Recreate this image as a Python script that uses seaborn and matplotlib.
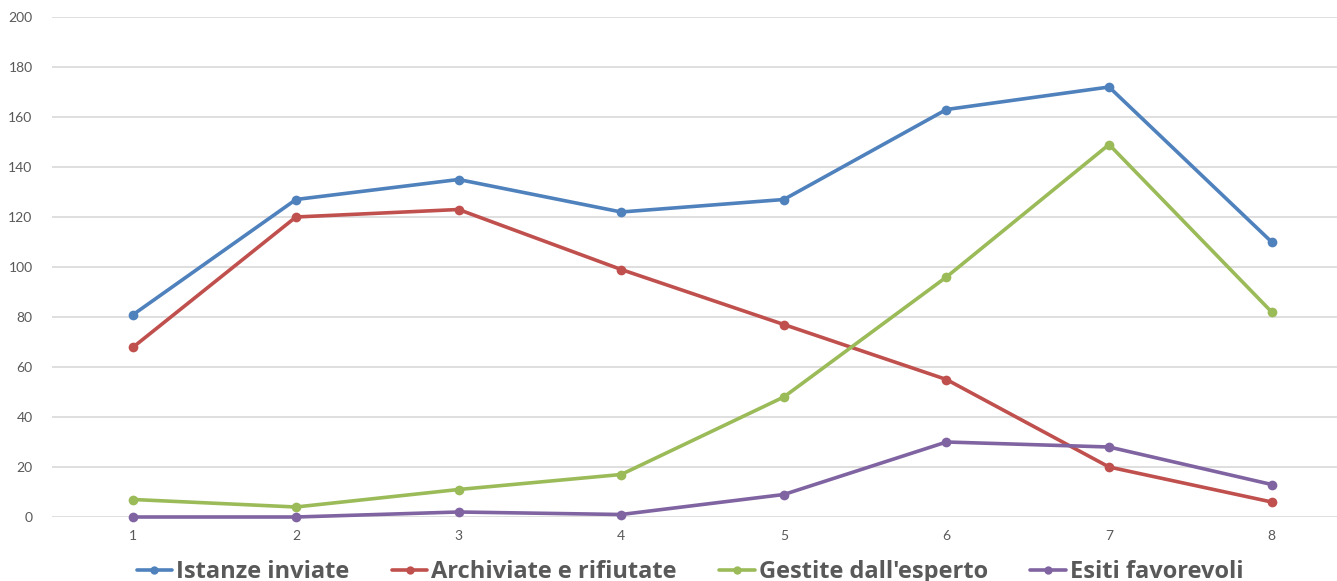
import matplotlib
matplotlib.use("Agg")
import matplotlib.pyplot as plt
import seaborn as sns
import pandas as pd

categories = [1, 2, 3, 4, 5, 6, 7, 8]
istanze_inviate = [81, 127, 135, 122, 127, 163, 172, 110]
archiviate_rifiutate = [68, 120, 123, 99, 77, 55, 20, 6]
gestite_esperto = [7, 4, 11, 17, 48, 96, 149, 82]
esiti_favorevoli = [0, 0, 2, 1, 9, 30, 28, 13]
series_names = ["Istanze inviate", "Archiviate e rifiutate", "Gestite dall'esperto", "Esiti favorevoli"]
colors = ["#4F81BD", "#C0504D", "#9BBB59", "#8064A2"]

sns.set_theme(style="white")
plt.rcParams['font.family'] = ['Lato', 'DejaVu Sans']

rows = []
for name, vals in zip(series_names, [istanze_inviate, archiviate_rifiutate, gestite_esperto, esiti_favorevoli]):
    for c, v in zip(categories, vals):
        rows.append({"x": c, "y": v, "serie": name})
df = pd.DataFrame(rows)

fig = plt.figure(figsize=(13.37, 5.81), dpi=100)
ax = fig.add_axes([52/1337, 64/581, 1301/1337, 500/581])

sns.lineplot(data=df, x="x", y="y", hue="serie", hue_order=series_names,
             palette=colors, marker="o", markersize=7, markeredgewidth=0,
             linewidth=2.6, ax=ax, legend=False)

ax.set_xlim(0.5, 8.5)
ax.set_ylim(0, 200)
ax.set_yticks(range(0, 201, 20))
ax.set_xticks(categories)
ax.set_xticklabels([str(c) for c in categories])
ax.grid(axis="y", color="#D9D9D9", linewidth=1.2)
ax.grid(axis="x", visible=False)
for s in ax.spines.values():
    s.set_visible(False)
ax.tick_params(axis="both", length=0, labelsize=10, labelcolor="#595959")
ax.tick_params(axis="y", pad=14)
ax.tick_params(axis="x", pad=9)
ax.set_xlabel("")
ax.set_ylabel("")
for l in ax.get_lines():
    l.set_clip_on(False)

handles = [plt.Line2D([], [], color=c, marker="o", markersize=6, markeredgewidth=0, linewidth=2.6) for c in colors]
fig.legend(handles, series_names, loc="center", bbox_to_anchor=(690/1337, 9/581),
           ncol=4, frameon=False, prop={"family": ["Open Sans", "DejaVu Sans"], "size": 17, "weight": "bold"},
           labelcolor="#595959", handlelength=1.5, handletextpad=0.17,
           columnspacing=1.8)

fig.savefig("out.png", dpi=100)
